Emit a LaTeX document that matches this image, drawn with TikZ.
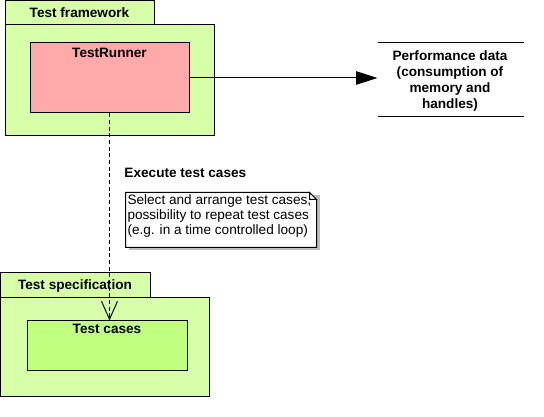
\documentclass[tikz,border=0pt]{standalone}
\usepackage{fontspec}
\setmainfont{Liberation Sans}
\usetikzlibrary{arrows.meta,positioning,fit}
\definecolor{pkggreen}{RGB}{215,255,170}
\definecolor{casegreen}{RGB}{192,255,128}
\definecolor{runnerpink}{RGB}{255,170,170}
\begin{document}
\begin{tikzpicture}[x=0.75pt,y=-0.75pt,line width=0.75pt,
    font=\fontsize{10.2}{11.25}\selectfont,
    pkg/.style={draw,fill=pkggreen,inner sep=0pt},
    runnerbox/.style={draw,fill=runnerpink,inner sep=0pt},
    casebox/.style={draw,fill=casegreen,inner sep=0pt},
    title/.style={font=\fontsize{10.2}{11}\selectfont\bfseries,inner sep=0pt}]
    \useasboundingbox (0,0) rectangle (544,417);

    % test framework package
    \node[pkg,fit={(5,1) (154,25)}] (fwtab) {};
    \node[pkg,fit={(5,25) (214,136)}] (fwbody) {};
    \node[title] at (fwtab.center) {Test framework};
    \node[runnerbox,fit={(30,43) (189,113)}] (runner) {};
    \node[title,below=3.5pt of runner.north] {TestRunner};

    % performance data
    \node[fit={(378,43) (523,116)},inner sep=0pt] (perf) {};
    \node[title,align=center,font=\fontsize{10.2}{12}\selectfont\bfseries]
        (perftext) at (450,81) {Performance data\\(consumption of\\memory and\\handles)};
    \draw (perf.north west) -- (perf.north east);
    \draw (perf.south west) -- (perf.south east);
    \draw[-{Triangle[length=16pt,width=10pt]}] (runner.east) -- (runner.east -| perf.west);

    % test specification package
    \node[pkg,fit={(0,273) (150,298)}] (spectab) {};
    \node[pkg,fit={(0,298) (209,397)}] (specbody) {};
    \node[title] at (spectab.center) {Test specification};
    \node[casebox,fit={(27,321) (187,371)}] (cases) {};
    \node[title,below=2.5pt of cases.north] {Test cases};

    \draw[dash pattern=on 3pt off 2pt,-{Straight Barb[length=13.5pt,width=12pt]}]
        (runner.south) -- (runner.south |- cases.north);
    \node[title,anchor=west] (exec) at (124,173) {Execute test cases};

    % note
    \node[fit={(126,193) (316,247)},inner sep=0pt] (note) {};
    \fill[black!25] ([shift={(3,3)}]note.north west) -- ([shift={(3,3)}]note.north east)
        -- ([shift={(3,3)}]note.south east) -- ([shift={(3,3)}]note.south west) -- cycle;
    \draw[fill=white] (note.north west) -- ([shift={(-7,0)}]note.north east)
        -- ([shift={(0,7)}]note.north east) -- (note.south east) -- (note.south west) -- cycle;
    \node[anchor=north west,align=left,inner sep=0pt] (notetext) at ([shift={(1.5,2)}]note.north west)
        {Select and arrange test cases,\\possibility to repeat test cases\\(e.g. in a time controlled loop)};
    \draw[fill=white] ([shift={(-7,0)}]note.north east) -- ([shift={(-7,7)}]note.north east)
        -- ([shift={(0,7)}]note.north east) -- cycle;
\end{tikzpicture}
\end{document}
